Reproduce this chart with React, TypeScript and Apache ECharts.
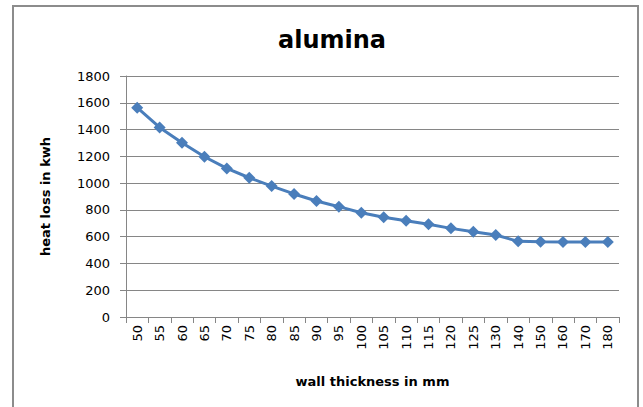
import React, { useEffect, useRef } from "react";
import * as echarts from "echarts";

const categories = ["50", "55", "60", "65", "70", "75", "80", "85", "90", "95", "100", "105", "110", "115", "120", "125", "130", "140", "150", "160", "170", "180"];
const heatLoss = [1563, 1416, 1302, 1197, 1110, 1040, 978, 919, 866, 824, 779, 745, 719, 692, 662, 637, 612, 565, 562, 560, 560, 560];
const yTicks = { min: 0, max: 1800, interval: 200 };

export default function App() {
  const ref = useRef<HTMLDivElement>(null);
  useEffect(() => {
    if (!ref.current) return;
    const chart = echarts.init(ref.current, null, { renderer: "svg" });
    const font = "DejaVu Sans";
    chart.setOption({
      animation: false,
      backgroundColor: "#ffffff",
      title: {
        text: "alumina",
        left: 327,
        top: 23,
        textAlign: "center",
        textStyle: { fontFamily: font, fontSize: 24, fontWeight: "bold", color: "#000" },
      },
      graphic: [
        {
          type: "rect",
          shape: { x: 13, y: 6, width: 625, height: 420 },
          style: { fill: "none", stroke: "#8c8c8c", lineWidth: 2 },
          silent: true,
        },
      ],
      grid: { left: 126, right: 24, top: 76, bottom: 90 },
      xAxis: {
        type: "category",
        data: categories,
        boundaryGap: true,
        name: "wall thickness in mm",
        nameLocation: "middle",
        nameGap: 58,
        nameTextStyle: { fontFamily: font, fontSize: 13, fontWeight: "bold", color: "#000" },
        axisLine: { lineStyle: { color: "#868686", width: 1 } },
        axisTick: { show: true, alignWithLabel: false, length: 6, lineStyle: { color: "#868686" } },
        axisLabel: { rotate: 90, fontFamily: font, fontSize: 13, color: "#000", margin: 8, interval: 0 },
        splitLine: { show: false },
      },
      yAxis: {
        type: "value",
        min: yTicks.min,
        max: yTicks.max,
        interval: yTicks.interval,
        name: "heat loss in kwh",
        nameLocation: "middle",
        nameGap: 74,
        nameRotate: 90,
        nameTextStyle: { fontFamily: font, fontSize: 13, fontWeight: "bold", color: "#000" },
        axisLine: { show: true, lineStyle: { color: "#868686", width: 1 } },
        axisTick: { show: true, length: 6, inside: false, lineStyle: { color: "#868686" } },
        axisLabel: { fontFamily: font, fontSize: 13, color: "#000", margin: 16, formatter: (v: number) => String(v) },
        splitLine: { show: true, lineStyle: { color: "#868686", width: 1 } },
      },
      series: [
        {
          type: "line",
          data: heatLoss,
          symbol: "diamond",
          symbolSize: 12,
          lineStyle: { color: "#4a7ebb", width: 3 },
          itemStyle: { color: "#4a7ebb" },
        },
      ],
    });
    return () => chart.dispose();
  }, []);
  return (
    <div
      ref={ref}
      style={{ position: "fixed", left: 0, top: 0, width: 643, height: 407 }}
    />
  );
}
